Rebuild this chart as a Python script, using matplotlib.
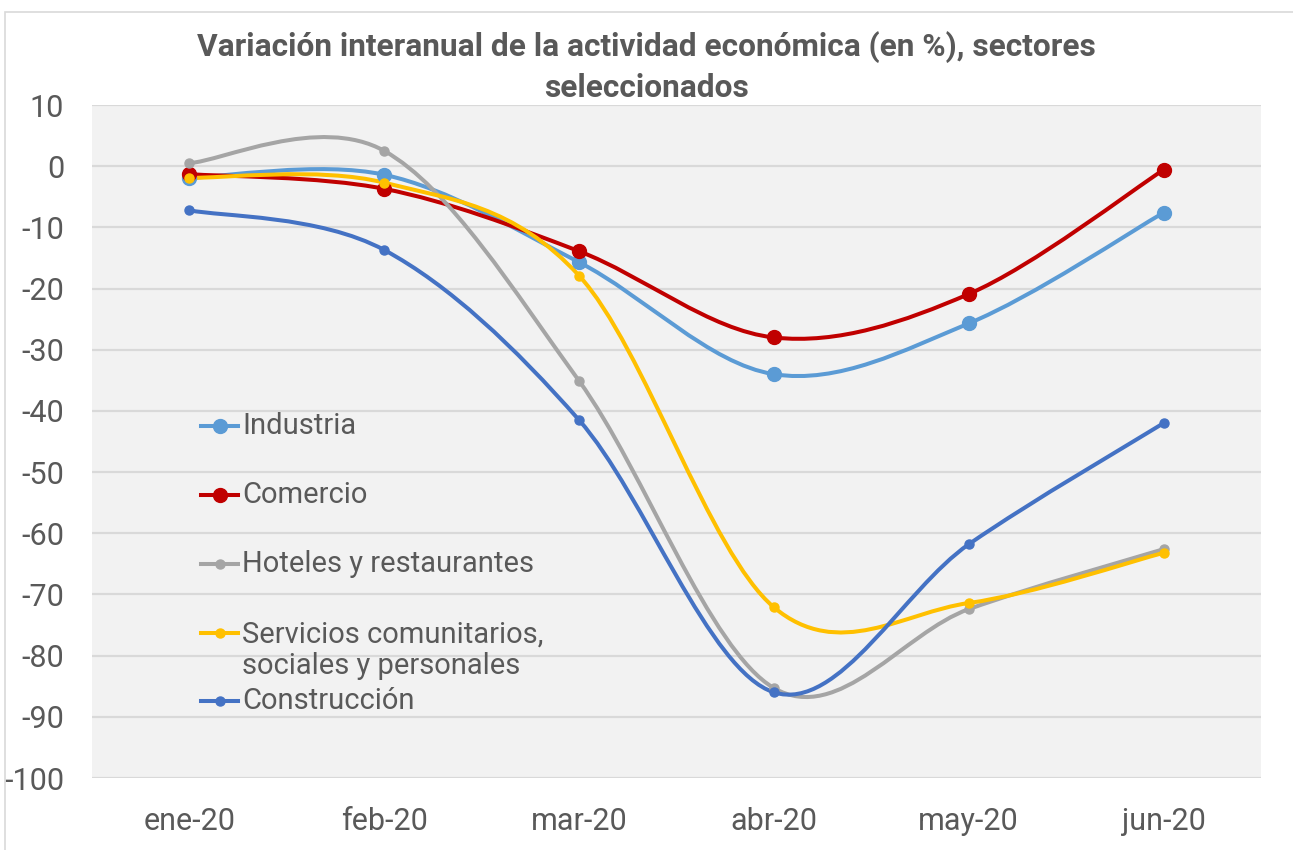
import matplotlib.pyplot as plt
from matplotlib.path import Path
from matplotlib.patches import PathPatch, Rectangle
from matplotlib.lines import Line2D

plt.rcParams['font.family'] = ['Roboto', 'DejaVu Sans']
plt.rcParams['axes.unicode_minus'] = False

# Data
months = ['ene-20', 'feb-20', 'mar-20', 'abr-20', 'may-20', 'jun-20']
industria = [-1.9, -1.4, -15.7, -34.0, -25.7, -7.6]
comercio = [-1.3, -3.7, -13.9, -28.0, -20.9, -0.6]
hoteles = [0.5, 2.5, -35.1, -85.3, -72.4, -62.6]
servicios = [-1.9, -2.7, -17.9, -72.1, -71.4, -63.2]
construccion = [-7.2, -13.7, -41.5, -86.0, -61.8, -42.0]

series = [
    ('Industria', industria, '#5B9BD5', 10),
    ('Comercio', comercio, '#C00000', 10),
    ('Hoteles y restaurantes', hoteles, '#A5A5A5', 6.5),
    ('Servicios comunitarios,\nsociales y personales', servicios, '#FFC000', 6.5),
    ('Construcción', construccion, '#4472C4', 6.5),
]

text_color = '#595959'


def smooth_path(xs, ys):
    # Excel-like smoothed line: Catmull-Rom as cubic Bezier segments
    n = len(xs)
    verts = [(xs[0], ys[0])]
    codes = [Path.MOVETO]
    for i in range(n - 1):
        ip = max(i - 1, 0)
        inn = min(i + 2, n - 1)
        c1 = (xs[i] + (xs[i + 1] - xs[ip]) / 6, ys[i] + (ys[i + 1] - ys[ip]) / 6)
        c2 = (xs[i + 1] - (xs[inn] - xs[i]) / 6, ys[i + 1] - (ys[inn] - ys[i]) / 6)
        verts += [c1, c2, (xs[i + 1], ys[i + 1])]
        codes += [Path.CURVE4] * 3
    return Path(verts, codes)


fig = plt.figure(figsize=(12.93, 8.5), dpi=100)
fig.patches.append(Rectangle((5 / 1293, -0.1), 1.2, 1 - 12 / 850 + 0.1,
                             transform=fig.transFigure, fill=False,
                             edgecolor='#d9d9d9', linewidth=1.2))

ax = fig.add_axes([92 / 1293, 1 - 778 / 850, 1169 / 1293, 673 / 850])
ax.set_facecolor('#f2f2f2')

x = list(range(len(months)))
for name, vals, color, ms in series:
    ax.add_patch(PathPatch(smooth_path(x, vals), fill=False, edgecolor=color,
                           linewidth=2.9, capstyle='round', joinstyle='round', zorder=3))
    ax.plot(x, vals, linestyle='none', marker='o', markersize=ms,
            color=color, zorder=4)

ax.set_xlim(-0.5, len(months) - 0.5)
ax.set_ylim(-100, 10)
ax.set_yticks(range(-100, 11, 10))
ax.set_xticks(x)
ax.set_xticklabels(months)
ax.grid(axis='y', color='#d9d9d9', linewidth=1.6)
ax.set_axisbelow(True)
for s in ax.spines.values():
    s.set_visible(False)
ax.tick_params(axis='both', length=0, labelsize=22, colors=text_color)
ax.tick_params(axis='y', pad=20)
ax.tick_params(axis='x', pad=21)

# Legend drawn inside the plot area, as in the reference
leg_y = [426, 495, 564, 650, 701]
for (name, vals, color, ms), py in zip(series, leg_y):
    ya = (778 - py) / 673
    if '\n' in name:
        ya_line = (778 - 633) / 673
    else:
        ya_line = ya
    ax.add_line(Line2D([(201 - 92) / 1169, (238 - 92) / 1169], [ya_line, ya_line],
                       transform=ax.transAxes, color=color, linewidth=2.9, zorder=5))
    ax.plot([(220 - 92) / 1169], [ya_line], transform=ax.transAxes, marker='o',
            markersize=ms, color=color, zorder=6)
    ax.text((242 - 92) / 1169, ya, name, transform=ax.transAxes, fontsize=21,
            color=text_color, va='center', ha='left', linespacing=1.15)

fig.text(0.5, 1 - 67 / 850,
         'Variación interanual de la actividad económica (en %), sectores\nseleccionados',
         ha='center', va='center', fontsize=22.8, fontweight='bold', color=text_color,
         linespacing=1.4)

plt.savefig('out.png', dpi=100)
plt.close()
